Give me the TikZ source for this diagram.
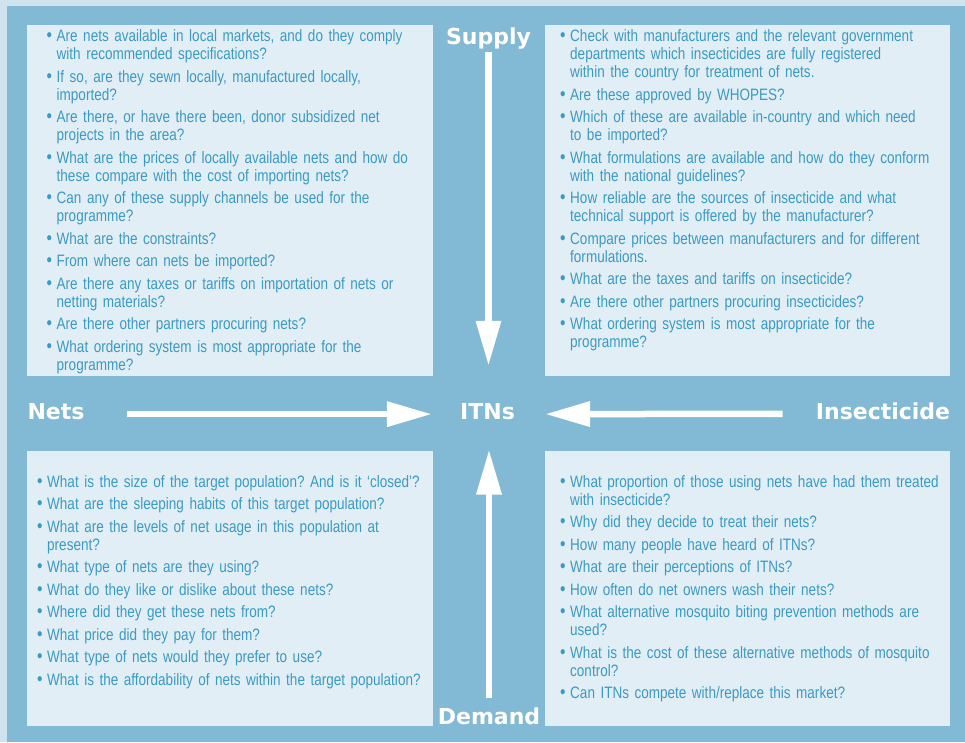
\documentclass[tikz,border=0pt]{standalone}
\usepackage{fontspec}
\setmainfont{Liberation Sans}[FakeStretch=0.82]
\newfontfamily\labelfont{DejaVu Sans}
\usetikzlibrary{arrows.meta}

\definecolor{outerbg}{RGB}{207,226,237}
\definecolor{panelblue}{RGB}{130,185,212}
\definecolor{boxblue}{RGB}{226,238,245}
\definecolor{textblue}{RGB}{58,154,196}

\newcommand{\qitem}[1]{\noindent\hangindent=10pt\hangafter=1\parskip=4.5pt\strut\makebox[10pt][l]{{\fontsize{19}{18}\selectfont\textbullet}}#1\par}

\tikzset{
  qbox/.style={fill=boxblue},
  qlist/.style={anchor=north west, inner sep=0pt, text width=395pt, align=left, text=textblue, font=\fontsize{16.5}{18}\selectfont\frenchspacing},
  flow/.style={draw=white, line width=6.5pt, -{Triangle[length=45pt,width=24pt]}},
  lbl/.style={anchor=base, inner sep=0pt, text=white, font=\labelfont\bfseries\fontsize{22}{24}\selectfont}
}

\begin{document}
\begin{tikzpicture}[x=1pt,y=-1pt]
\useasboundingbox (0,0) rectangle (965,742) ;
\fill[outerbg] (0,0) rectangle (965,742) ;
\fill[panelblue] (7,6) rectangle (965,742) ;
\fill[qbox] (27,25) rectangle (433,376) ;
\fill[qbox] (545,25) rectangle (950,376) ;
\fill[qbox] (27,451) rectangle (433,726) ;
\fill[qbox] (545,451) rectangle (950,726) ;

\node[lbl] (supply) at (488.5,44) {Supply} ;
\node[lbl] (itns) at (487.5,419) {ITNs} ;
\node[lbl] (nets) at (56,419) {Nets} ;
\node[lbl] (insect) at (883,419) {Insecticide} ;
\node[lbl] (demand) at (489,724) {Demand} ;

\draw[flow,shorten <=3pt,shorten >=37pt] (supply.south) -- (supply.south |- itns.north) ;
\draw[flow,shorten <=9pt,shorten >=30pt] (demand.north) -- (demand.north |- itns.south) ;
\draw[flow,shorten <=42pt,shorten >=28pt] ([yshift=-3pt]nets.east) -- ([yshift=-3pt]itns.west) ;
\draw[flow,shorten <=33pt,shorten >=30pt] ([yshift=-3pt]insect.west) -- ([yshift=-3pt]itns.east) ;

\node[qlist] (supplynets) at (46.5,29.1) {%
\qitem{Are nets available in local markets, and do they comply\newline with recommended specifications?}
\qitem{If so, are they sewn locally, manufactured locally,\newline imported?}
\qitem{Are there, or have there been, donor subsidized net\newline projects in the area?}
\qitem{What are the prices of locally available nets and how do\newline these compare with the cost of importing nets?}
\qitem{Can any of these supply channels be used for the\newline programme?}
\qitem{What are the constraints?}
\qitem{From where can nets be imported?}
\qitem{Are there any taxes or tariffs on importation of nets or\newline netting materials?}
\qitem{Are there other partners procuring nets?}
\qitem{What ordering system is most appropriate for the\newline programme?}} ;

\node[qlist] (supplyinsect) at (560,29.1) {%
\qitem{Check with manufacturers and the relevant government\newline departments which insecticides are fully registered\newline within the country for treatment of nets.}
\qitem{Are these approved by WHOPES?}
\qitem{Which of these are available in-country and which need\newline to be imported?}
\qitem{What formulations are available and how do they conform\newline with the national guidelines?}
\qitem{How reliable are the sources of insecticide and what\newline technical support is offered by the manufacturer?}
\qitem{Compare prices between manufacturers and for different\newline formulations.}
\qitem{What are the taxes and tariffs on insecticide?}
\qitem{Are there other partners procuring insecticides?}
\qitem{What ordering system is most appropriate for the\newline programme?}} ;

\node[qlist] (demandnets) at (37,474.4) {%
\qitem{What is the size of the target population? And is it ‘closed’?}
\qitem{What are the sleeping habits of this target population?}
\qitem{What are the levels of net usage in this population at\newline present?}
\qitem{What type of nets are they using?}
\qitem{What do they like or dislike about these nets?}
\qitem{Where did they get these nets from?}
\qitem{What price did they pay for them?}
\qitem{What type of nets would they prefer to use?}
\qitem{What is the affordability of nets within the target population?}} ;

\node[qlist] (demandinsect) at (560,474.4) {%
\qitem{What proportion of those using nets have had them treated\newline with insecticide?}
\qitem{Why did they decide to treat their nets?}
\qitem{How many people have heard of ITNs?}
\qitem{What are their perceptions of ITNs?}
\qitem{How often do net owners wash their nets?}
\qitem{What alternative mosquito biting prevention methods are\newline used?}
\qitem{What is the cost of these alternative methods of mosquito\newline control?}
\qitem{Can ITNs compete with/replace this market?}} ;

\end{tikzpicture}
\end{document}
